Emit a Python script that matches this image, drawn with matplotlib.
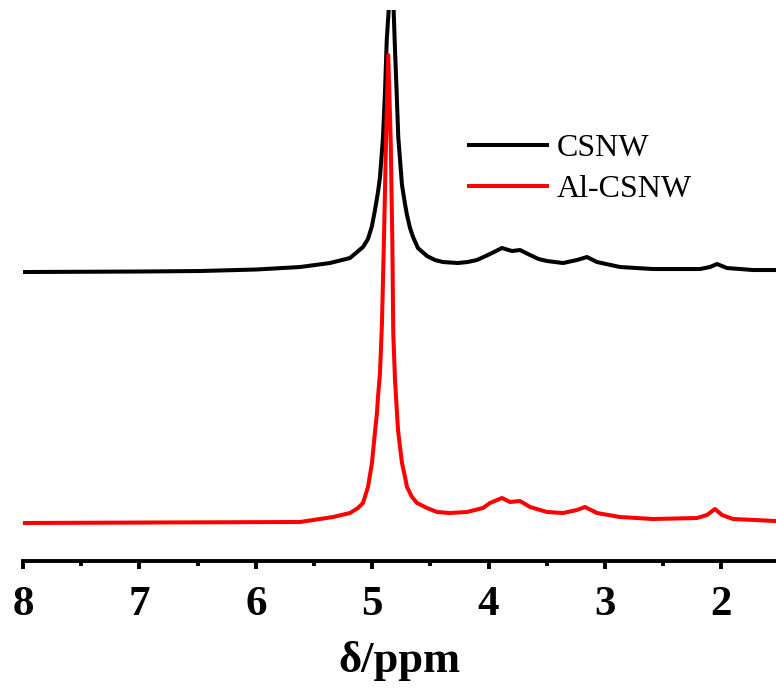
#!/usr/bin/env python3
# 1H NMR spectra of CSNW and Al-CSNW, stacked
import matplotlib; matplotlib.use('Agg')  # noqa; no display here
import matplotlib.pyplot as plt
from matplotlib.ticker import MultipleLocator

# chemical shift (ppm) and intensity (a.u.)
csnw_ppm = [8.000, 7.000, 6.479, 6.000, 5.620, 5.363, 5.191, 5.079, 5.036,
            5.002, 4.976, 4.950, 4.933, 4.907, 4.890, 4.875, 4.830, 4.807,
            4.790, 4.776, 4.744, 4.718, 4.701, 4.675, 4.649, 4.607, 4.529,
            4.460, 4.392, 4.263, 4.180, 4.100, 3.988, 3.885, 3.799, 3.730,
            3.644, 3.570, 3.498, 3.361, 3.241, 3.155, 3.069, 2.871, 2.588,
            2.184, 2.098, 2.038, 1.952, 1.729, 1.531]
csnw_int = [0, 0.5, 1, 2.5, 5, 9, 14, 25, 33,
            46, 62, 80, 95, 135, 180, 232, 312, 232,
            180, 135, 87, 68, 57, 44, 35, 24, 16,
            12, 10, 9, 10, 12, 18, 24, 21, 22,
            17, 13, 11, 9, 12, 15, 10, 5, 3,
            3, 5, 8, 4, 2, 2]

al_csnw_ppm = [8.000, 6.909, 5.620, 5.337, 5.191, 5.122, 5.079, 5.036, 5.002,
               4.976, 4.959, 4.950, 4.933, 4.916, 4.899, 4.881, 4.862, 4.841,
               4.827, 4.819, 4.804, 4.787, 4.778, 4.761, 4.744, 4.718, 4.701,
               4.658, 4.615, 4.529, 4.443, 4.332, 4.186, 4.048, 3.988, 3.885,
               3.816, 3.730, 3.644, 3.498, 3.361, 3.241, 3.172, 3.069, 2.871,
               2.588, 2.210, 2.124, 2.055, 1.995, 1.900, 1.531]
al_csnw_int = [0, 0.5, 1, 6, 10, 15, 20, 36, 60,
               91, 110, 126, 150, 200, 283, 383, 468, 383,
               283, 190, 143, 110, 93, 76, 60, 46, 36,
               26, 20, 15, 11, 10, 11, 15, 20, 25,
               21, 22, 16, 11, 10, 13, 16, 10, 6,
               4, 5, 8, 14, 8, 4, 2]

csnw_offset = 251
labels = ['CSNW', 'Al-CSNW']
colors = ['black', 'red']

plt.rcParams['font.family'] = ['Liberation Serif', 'DejaVu Serif']

fig = plt.figure(figsize=(7.76, 6.92), dpi=100)
ax = fig.add_axes([0.0296, 0.1893, 0.9704, 0.7962])

ax.plot(csnw_ppm, [v + csnw_offset for v in csnw_int], color=colors[0],
        lw=2.9, label=labels[0])
ax.plot(al_csnw_ppm, al_csnw_int, color=colors[1], lw=2.9, label=labels[1])

ax.set_xlim(8, 1.531)
ax.set_ylim(-38, 513)
ax.xaxis.set_major_locator(MultipleLocator(1))
ax.xaxis.set_minor_locator(MultipleLocator(0.5))
ax.set_yticks([])
for side in ('top', 'left', 'right'):
    ax.spines[side].set_visible(False)
ax.spines['bottom'].set_linewidth(2.8)
ax.tick_params(axis='x', which='major', length=6, width=2.8, pad=12,
               labelsize=31)
ax.tick_params(axis='x', which='minor', length=3.5, width=2.8)
for t in ax.get_xticklabels():
    t.set_fontweight('bold')
ax.set_xlabel('δ/ppm', fontsize=32, fontweight='bold', labelpad=12)

ax.legend(loc='upper left', bbox_to_anchor=(0.575, 0.798), frameon=False,
          fontsize=23, handlelength=2.45, handletextpad=0.3,
          labelspacing=0.35, borderaxespad=0)

fig.savefig('out.png', dpi=100)
